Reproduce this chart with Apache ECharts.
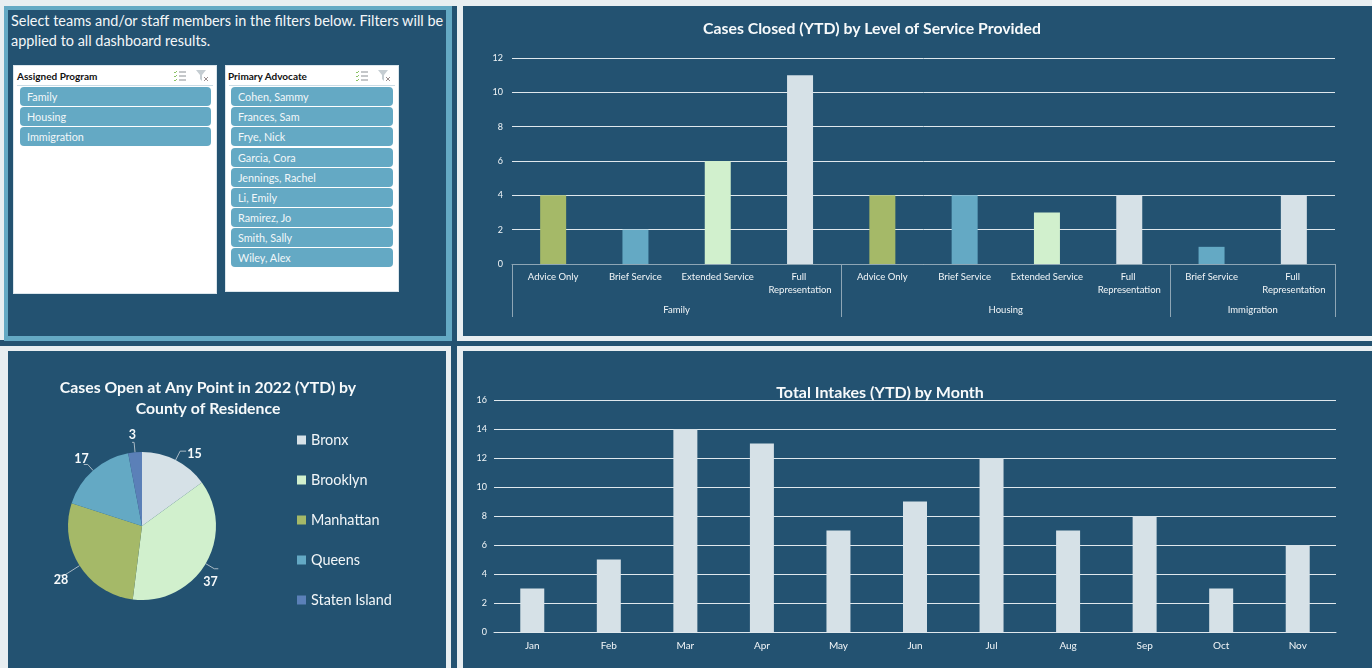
<!DOCTYPE html>
<html>
<head>
<meta charset="utf-8">
<title>Dashboard</title>
<script src="https://cdn.jsdelivr.net/npm/echarts@6/dist/echarts.min.js"></script>
<style>
html, body { margin: 0; padding: 0; }
body { width: 1372px; height: 668px; position: relative; overflow: hidden; background: #e8eef1; font-family: Lato, sans-serif; }
.box { position: absolute; box-sizing: border-box; }
.dark { background: #235271; }
.slicer { position: absolute; box-sizing: border-box; background: #fff; border: 1px solid #dbe6ec; }
.slicer .head { position: absolute; top: 4px; font-size: 10px; font-weight: 700; color: #111; line-height: 13px; }
.slicer .rule { position: absolute; left: 3px; right: 3px; top: 19px; height: 1px; background: #c9dbe5; }
.slicer svg { position: absolute; top: 4px; }
.item { position: absolute; box-sizing: border-box; height: 19px; border-radius: 4px; background: #64a9c4; color: #f2f7f9; font-size: 10.8px; line-height: 19px; padding-left: 7px; }
#intro { position: absolute; left: 11px; top: 11px; width: 438px; font-size: 14.45px; line-height: 20px; color: #f4f7f9; white-space: nowrap; }
</style>
</head>
<body>
<!-- panels -->
<div class="box dark" style="left:0;top:340px;width:457px;height:6px"></div>
<div class="box dark" style="left:451px;top:6px;width:6px;height:662px"></div>
<div class="box" style="left:4px;top:6px;width:448px;height:335px;background:#64a9c4"></div>
<div class="box dark" style="left:8px;top:10px;width:438px;height:326px"></div>
<div class="box dark" style="left:463px;top:6px;width:909px;height:330px"></div>
<div class="box dark" style="left:457px;top:341px;width:915px;height:5px"></div>
<div class="box dark" style="left:8px;top:351px;width:438px;height:317px"></div>
<div class="box dark" style="left:463px;top:351px;width:909px;height:317px"></div>

<div id="intro">Select teams and/or staff members in the filters below. Filters will be<br>applied to all dashboard results.</div>
<div id="slicers"></div>

<!-- 图表容器 -->
<div class="box" id="chartLevel" style="left:463px;top:6px;width:909px;height:330px"></div>
<div class="box" id="chartCounty" style="left:8px;top:351px;width:438px;height:317px"></div>
<div class="box" id="chartMonth" style="left:463px;top:349px;width:909px;height:319px"></div>

<script>
const programs = ["Family", "Housing", "Immigration"];
const advocates = ["Cohen, Sammy", "Frances, Sam", "Frye, Nick", "Garcia, Cora", "Jennings, Rachel", "Li, Emily", "Ramirez, Jo", "Smith, Sally", "Wiley, Alex"];

const levelNames = ["Advice Only", "Brief Service", "Extended Service", "Full Representation", "Advice Only", "Brief Service", "Extended Service", "Full Representation", "Brief Service", "Full Representation"];
const levelValues = [4, 2, 6, 11, 4, 4, 3, 4, 1, 4];
const groupNames = ["Family", "Housing", "Immigration"];
const groupCenters = [2, 6, 9];
const groupEdges = [0, 4, 8, 10];

const counties = ["Bronx", "Brooklyn", "Manhattan", "Queens", "Staten Island"];
const countyValues = [15, 37, 28, 17, 3];

const months = ["Jan", "Feb", "Mar", "Apr", "May", "Jun", "Jul", "Aug", "Sep", "Oct", "Nov"];
const monthValues = [3, 5, 14, 13, 7, 9, 12, 7, 8, 3, 6];

const GREEN = "#a5b968", BLUE = "#64a9c4", MINT = "#d1f0cd", GREY = "#d6e1e7", INDIGO = "#5b80b8";
const levelColors = { "Advice Only": GREEN, "Brief Service": BLUE, "Extended Service": MINT, "Full Representation": GREY };
const TEXT = "#f2f6f8", FONT = "Lato, sans-serif";

// slicers on the left are plain html
function addSlicer(title, items, left, top, width, height, itemLeft, itemWidth, headLeft) {
  const el = document.createElement("div");
  el.className = "slicer";
  el.style.cssText = `left:${left}px;top:${top}px;width:${width}px;height:${height}px`;
  const iconA = `<svg style="left:${width - 45}px" width="14" height="12" viewBox="0 0 14 12"><path d="M1 2l1 1 2-2M1 6l1 1 2-2M1 10l1 1 2-2" stroke="#8cc267" fill="none"/><path d="M6 2h7M6 6h7M6 10h7" stroke="#8a8f94"/></svg>`;
  const iconB = `<svg style="left:${width - 22}px" width="14" height="12" viewBox="0 0 14 12"><path d="M0 0h10L6 5v6L4 9V5z" fill="#c5cdd2"/><path d="M8 7l4 4M12 7l-4 4" stroke="#9a8f8f"/></svg>`;
  el.innerHTML = `<div class="head" style="left:${headLeft}px">${title}</div><div class="rule"></div>${iconA}${iconB}`;
  items.forEach((name, i) => {
    const it = document.createElement("div");
    it.className = "item";
    it.textContent = name;
    it.style.cssText = `left:${itemLeft}px;width:${itemWidth}px;top:${21 + i * 20.17}px`;
    el.appendChild(it);
  });
  document.getElementById("slicers").appendChild(el);
}
addSlicer("Assigned Program", programs, 13, 65, 204, 229, 6, 191, 3);
addSlicer("Primary Advocate", advocates, 225, 65, 174, 227, 5, 162, 2);

const splitLine = { show: true, lineStyle: { color: "#dfe8ed", width: 1 } };
const titleStyle = { color: "#f7fafb", fontSize: 16, fontWeight: "bold", fontFamily: FONT };

const chartLevel = echarts.init(document.getElementById("chartLevel"));
chartLevel.setOption({
  animation: false,
  title: { text: "Cases Closed (YTD) by Level of Service Provided", left: 404, top: 10, textAlign: "center", textStyle: { ...titleStyle, fontSize: 15.8 } },
  grid: { left: 49, right: 37, top: 52, height: 206 },
  xAxis: [
    {
      type: "category",
      data: levelNames,
      axisLine: { lineStyle: { color: "#8ea6b5" } },
      axisTick: { show: false },
      axisLabel: { interval: 0, color: TEXT, fontSize: 9.5, fontFamily: FONT, margin: 6, width: 78, overflow: "break", lineHeight: 13 },
    },
    {
      // second level of the axis: program groups
      type: "value",
      position: "bottom",
      min: 0,
      max: 10,
      axisLine: { show: false },
      splitLine: { show: false },
      axisTick: { show: true, length: 53, customValues: groupEdges, lineStyle: { color: "#8ea6b5" } },
      axisLabel: {
        color: TEXT, fontSize: 9.5, fontFamily: FONT, margin: 41,
        customValues: groupCenters,
        formatter: (v) => groupNames[groupCenters.indexOf(v)],
      },
    },
  ],
  yAxis: {
    type: "value", min: 0, max: 12, interval: 2,
    axisLine: { show: false }, axisTick: { show: false },
    axisLabel: { color: TEXT, fontSize: 9, fontFamily: FONT, margin: 9 },
    splitLine: splitLine,
  },
  series: [{
    type: "bar",
    barWidth: 26,
    data: levelValues.map((v, i) => ({ value: v, itemStyle: { color: levelColors[levelNames[i]] } })),
  }],
});

const chartCounty = echarts.init(document.getElementById("chartCounty"));
const countyColors = [GREY, MINT, GREEN, BLUE, INDIGO];
const lineLens = [[10, 6], [10, 4], [18, 6], [8, 4], [10, 2]];
const labelShifts = [[-4, 3], [-20, 13], [15, 5], [10, -6], [9, -7]];
chartCounty.setOption({
  animation: false,
  title: { text: "Cases Open at Any Point in 2022 (YTD) by\nCounty of Residence", left: 195, top: 21, textAlign: "center", textStyle: { ...titleStyle, fontSize: 15.8, lineHeight: 21 } },
  legend: {
    orient: "vertical", left: 284, top: 77,
    itemWidth: 9, itemHeight: 9, itemGap: 26, icon: "rect",
    textStyle: { color: TEXT, fontSize: 14.4, fontFamily: FONT },
    data: counties,
  },
  series: [{
    type: "pie",
    center: [134, 175],
    radius: [0, 74],
    startAngle: 90,
    label: { color: "#f7fafb", fontSize: 12.5, fontWeight: "bold", fontFamily: FONT, formatter: "{c}" },
    labelLine: { lineStyle: { color: "#a9b9c4", width: 1 } },
    labelLayout: (p) => ({ dx: labelShifts[p.dataIndex][0], dy: labelShifts[p.dataIndex][1] }),
    data: counties.map((name, i) => ({
      name,
      value: countyValues[i],
      itemStyle: { color: countyColors[i] },
      labelLine: { length: lineLens[i][0], length2: lineLens[i][1] },
    })),
  }],
});

const chartMonth = echarts.init(document.getElementById("chartMonth"));
chartMonth.setOption({
  animation: false,
  title: { text: "Total Intakes (YTD) by Month", left: 412, top: 31, textAlign: "center", textStyle: titleStyle },
  grid: { left: 31, right: 36, top: 51, height: 232 },
  xAxis: {
    type: "category",
    data: months,
    axisLine: { lineStyle: { color: "#dfe8ed" } },
    axisTick: { show: false },
    axisLabel: { color: TEXT, fontSize: 10, fontFamily: FONT, margin: 9 },
  },
  yAxis: {
    type: "value", min: 0, max: 16, interval: 2,
    axisLine: { show: false }, axisTick: { show: false },
    axisLabel: { color: TEXT, fontSize: 9, fontFamily: FONT, margin: 7 },
    splitLine: splitLine,
  },
  series: [{
    type: "bar",
    barWidth: 24,
    itemStyle: { color: GREY },
    data: monthValues,
  }],
});
</script>
</body>
</html>
